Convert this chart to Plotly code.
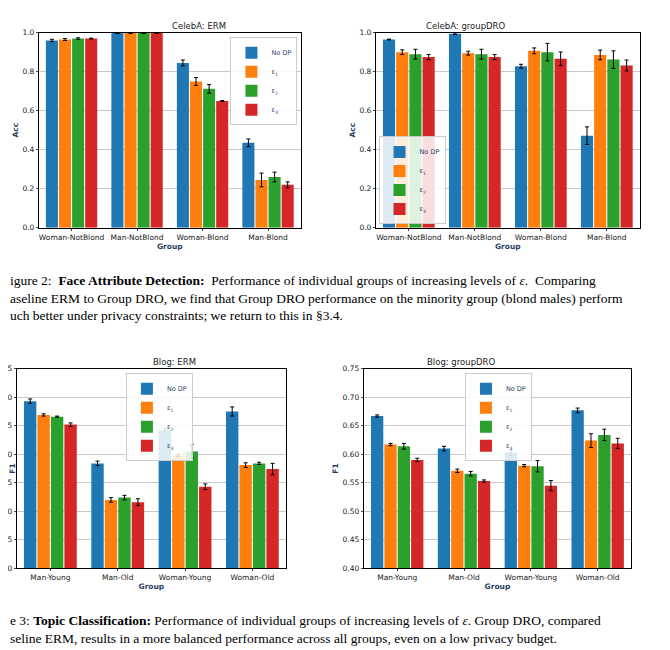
import plotly.graph_objects as go

celeb_groups = ["Woman-NotBlond", "Man-NotBlond", "Woman-Blond", "Man-Blond"]
blog_groups = ["Man-Young", "Man-Old", "Woman-Young", "Woman-Old"]
series = ["No DP", "ε<sub>1</sub>", "ε<sub>2</sub>", "ε<sub>3</sub>"]
colors = ["#1f77b4", "#ff7f0e", "#2ca02c", "#d62728"]

celeb_erm = [[0.960, 0.998, 0.845, 0.435],
             [0.965, 0.998, 0.750, 0.245],
             [0.970, 0.998, 0.712, 0.260],
             [0.970, 0.998, 0.650, 0.220]]
celeb_erm_err = [[0.006, 0.002, 0.015, 0.020],
                 [0.005, 0.002, 0.020, 0.035],
                 [0.004, 0.002, 0.022, 0.025],
                 [0.002, 0.002, 0.002, 0.015]]
celeb_dro = [[0.965, 0.995, 0.828, 0.472],
             [0.900, 0.895, 0.907, 0.886],
             [0.890, 0.890, 0.900, 0.862],
             [0.875, 0.875, 0.866, 0.832]]
celeb_dro_err = [[0.002, 0.004, 0.010, 0.045],
                 [0.012, 0.010, 0.015, 0.025],
                 [0.025, 0.025, 0.045, 0.045],
                 [0.013, 0.013, 0.035, 0.028]]
blog_erm = [[0.693, 0.584, 0.642, 0.675],
            [0.669, 0.520, 0.598, 0.581],
            [0.666, 0.524, 0.605, 0.584],
            [0.652, 0.516, 0.543, 0.574]]
blog_erm_err = [[0.004, 0.004, 0.003, 0.008],
                [0.002, 0.004, 0.002, 0.004],
                [0.001, 0.004, 0.012, 0.002],
                [0.003, 0.006, 0.005, 0.010]]
blog_dro = [[0.667, 0.610, 0.603, 0.677],
            [0.617, 0.571, 0.580, 0.624],
            [0.614, 0.566, 0.579, 0.634],
            [0.590, 0.553, 0.545, 0.619]]
blog_dro_err = [[0.002, 0.004, 0.005, 0.004],
                [0.002, 0.003, 0.002, 0.012],
                [0.005, 0.004, 0.010, 0.010],
                [0.003, 0.002, 0.009, 0.009]]

panels = [
    ("CelebA: ERM", celeb_groups, celeb_erm, celeb_erm_err, "Acc", [0, 1.0], 0.2, [0.046, 0.437], [0.662, 0.962]),
    ("CelebA: groupDRO", celeb_groups, celeb_dro, celeb_dro_err, "Acc", [0, 1.0], 0.2, [0.549, 0.943], [0.662, 0.962]),
    ("Blog: ERM", blog_groups, blog_erm, blog_erm_err, "F1", [0.40, 0.75], 0.05, [0.013, 0.415], [0.138, 0.445]),
    ("Blog: groupDRO", blog_groups, blog_dro, blog_dro_err, "F1", [0.40, 0.75], 0.05, [0.531, 0.930], [0.138, 0.445]),
]
legend_pos = [(0.432, 0.955, "right", "top"), (0.553, 0.667, "left", "bottom"),
              (0.176, 0.438, "left", "top"), (0.682, 0.438, "left", "top")]

fig = go.Figure()
tick_font = dict(family="DejaVu Sans", size=7.5, color="#222")
for i, (title, groups, vals, errs, ylab, yr, dt, xd, yd) in enumerate(panels):
    n = "" if i == 0 else str(i + 1)
    leg = "legend" + n
    for s in range(4):
        fig.add_trace(go.Bar(
            x=groups, y=vals[s], name=series[s], marker_color=colors[s],
            marker_line_width=0,
            error_y=dict(type="data", array=errs[s], color="black", thickness=1, width=2),
            xaxis="x" + n, yaxis="y" + n, legend=leg))
    fig.update_layout({
        "xaxis" + n: dict(domain=xd, anchor="y" + n, showline=True, mirror=True, linecolor="black",
                          ticks="outside", ticklen=2, tickfont=tick_font, automargin=False,
                          title=dict(text="<b>Group</b>", font=dict(family="DejaVu Sans", size=7.5), standoff=2)),
        "yaxis" + n: dict(domain=yd, anchor="x" + n, range=yr, dtick=dt, showline=True, mirror=True,
                          linecolor="black", ticks="outside", ticklen=2, tickfont=tick_font,
                          tickformat=".1f" if dt == 0.2 else ".2f", automargin=False,
                          showgrid=True, gridcolor="#c8c8c8", zeroline=False,
                          title=dict(text="<b>" + ylab + "</b>", font=dict(family="DejaVu Sans", size=7.5), standoff=2)),
        leg: dict(x=legend_pos[i][0], y=legend_pos[i][1], xanchor=legend_pos[i][2], yanchor=legend_pos[i][3],
                  bgcolor="rgba(255,255,255,0.85)", bordercolor="#ccc", borderwidth=1,
                  font=dict(family="DejaVu Sans", size=6.5), itemwidth=30, traceorder="normal",
                  tracegroupgap=0),
    })
    fig.add_annotation(text=title, x=(xd[0] + xd[1]) / 2, y=yd[1], xref="paper", yref="paper",
                       yanchor="bottom", showarrow=False, font=dict(family="DejaVu Sans", size=8.5, color="#222"))

caption_font = dict(family="Liberation Serif", size=13.5, color="black")
captions = [
    (273, "igure 2:  <b>Face Attribute Detection:</b>  Performance of individual groups of increasing levels of <i>ε</i>.  Comparing"),
    (290, "aseline ERM to Group DRO, we find that Group DRO performance on the minority group (blond males) perform"),
    (307, "uch better under privacy constraints; we return to this in §3.4."),
    (612, "e 3: <b>Topic Classification:</b> Performance of individual groups of increasing levels of <i>ε</i>. Group DRO, compared"),
    (630, "seline ERM, results in a more balanced performance across all groups, even on a low privacy budget."),
]
for ypx, txt in captions:
    fig.add_annotation(text=txt, x=0, y=1 - ypx / 650, xref="paper", yref="paper", xanchor="left",
                       yanchor="middle", showarrow=False, font=caption_font)

fig.update_layout(width=670, height=650, margin=dict(l=0, r=0, t=0, b=0),
                  plot_bgcolor="white", paper_bgcolor="white",
                  barmode="group", bargap=0.2, bargroupgap=0.08)
fig.write_html("out.html")
